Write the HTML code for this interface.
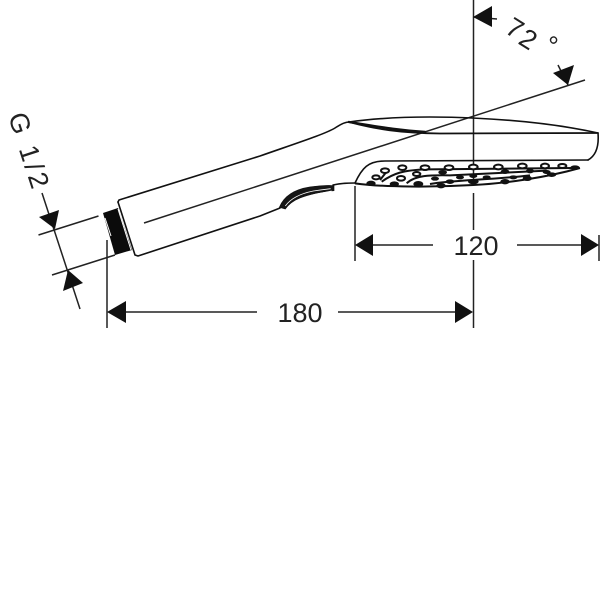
<!DOCTYPE html>
<html>
<head>
<meta charset="utf-8">
<style>
html,body{margin:0;padding:0;background:#fff;width:600px;height:600px;overflow:hidden}
svg{display:block}
text{font-family:"Liberation Sans",sans-serif;fill:#222}
</style>
</head>
<body>
<svg width="600" height="600" viewBox="0 0 600 600" xmlns="http://www.w3.org/2000/svg">
<rect width="600" height="600" fill="#fff"/>

<!-- center / extension lines -->
<g stroke="#222" stroke-width="1.500" fill="none">
<path d="M473.5 0V183M473.5 193V230M473.5 260V328"/>
<path d="M144 223L585 80"/>
<path d="M355 186V261M599 235V261M107 240V328"/>
<path d="M38.500 235L98.500 216M52 275L115 255"/>
<path d="M42 193L80 309"/>
<path d="M126 312H257M338 312H455M373 245H433M517 245H581"/>
<path d="M497 19L473 17M558 65L568 85"/>
</g>

<!-- arrowheads -->
<g fill="#111">
<polygon points="107,312 126,301 126,323"/>
<polygon points="473,312 455,301 455,323"/>
<polygon points="355,245 373,234 373,256"/>
<polygon points="599,245 581,234 581,256"/>
<polygon points="55,229 39,217 59,210"/>
<polygon points="68,270 63,291 83,283"/>
<polygon points="473,17 492,6 492,27"/>
<polygon points="568,85 553,73 574,65"/>
</g>

<!-- body -->
<g stroke="#111" stroke-width="1.600" fill="none" stroke-linejoin="round" stroke-linecap="round">
<path d="M118 202L119 200L260 156C300 142 325 134 335 128C341 124 345 122 349 122C420 112 530 118 598 133C599 145 597 155 588 160"/>
<path d="M118 202L135 255L138 256L260 216L280 208"/>
<path d="M333 185C342 183 348 183 355 183"/>
<path d="M349 122C375 129 400 133 440 133.500L598 133" stroke-width="1.800"/>
<path d="M349 122C375 126 395 130 425 132" stroke-width="2.400"/>
<path d="M355 183C362 168 368 161 385 161L588 160" stroke-width="1.600"/>
</g>

<!-- threaded connector -->
<polygon points="103,213 118,208 132,250 115,255" fill="#0b0b0b"/>
<path d="M105 218L111 236" stroke="#fff" stroke-width="1" fill="none"/>
<path d="M118 209L131 250" stroke="#fff" stroke-width="1" fill="none"/>

<!-- finger grip -->
<g transform="translate(260,110) scale(.3333)">
<path d="M58 292C72 258 105 238 150 231C180 227 205 225 222 227L222 242C190 245 150 252 120 264C100 272 85 284 76 297Z" fill="#161616" stroke="#111" stroke-width="2"/>
<path d="M76 288C93 264 125 250 160 243C180 240 195 238 212 236" fill="none" stroke="#fff" stroke-width="2.500"/>
<path d="M86 292C105 272 135 260 170 252C185 249 200 246 215 243" fill="none" stroke="#fff" stroke-width="2.500"/>
</g>

<!-- spray face -->
<g transform="translate(340,100) scale(.3333)">
<g fill="none" stroke="#111" stroke-width="6">
<path d="M45 250C130 262 280 262 400 255C500 250 620 232 720 204"/>
<path d="M125 245C160 220 190 210 260 208L700 204"/>
<path d="M200 250C225 225 270 225 330 226L620 212"/>
<path d="M270 252C340 240 450 240 570 226"/>
<path d="M120 240L140 215"/>
</g>
<g fill="#fff" stroke="#111" stroke-width="6">
<ellipse cx="135" cy="212" rx="12" ry="7"/>
<ellipse cx="187" cy="203" rx="12" ry="7"/>
<ellipse cx="255" cy="203" rx="13" ry="7"/>
<ellipse cx="327" cy="203" rx="13" ry="7"/>
<ellipse cx="400" cy="201" rx="13" ry="7"/>
<ellipse cx="475" cy="201" rx="13" ry="7"/>
<ellipse cx="547" cy="198" rx="13" ry="7"/>
<ellipse cx="615" cy="198" rx="12" ry="7"/>
<ellipse cx="667" cy="198" rx="12" ry="6"/>
<ellipse cx="108" cy="232" rx="11" ry="6"/>
<ellipse cx="183" cy="235" rx="12" ry="7"/>
<ellipse cx="230" cy="222" rx="11" ry="6"/>
</g>
<g fill="#111">
<ellipse cx="705" cy="203" rx="14" ry="7"/>
<ellipse cx="308" cy="217" rx="13" ry="7"/>
<ellipse cx="495" cy="215" rx="13" ry="7"/>
<ellipse cx="570" cy="213" rx="12" ry="7"/>
<ellipse cx="620" cy="216" rx="12" ry="6"/>
<ellipse cx="93" cy="250" rx="14" ry="8"/>
<ellipse cx="163" cy="252" rx="14" ry="8"/>
<ellipse cx="235" cy="252" rx="15" ry="9"/>
<ellipse cx="303" cy="257" rx="14" ry="8"/>
<ellipse cx="330" cy="245" rx="13" ry="7"/>
<ellipse cx="400" cy="245" rx="16" ry="8"/>
<ellipse cx="495" cy="245" rx="14" ry="8"/>
<ellipse cx="562" cy="235" rx="14" ry="8"/>
<ellipse cx="635" cy="224" rx="14" ry="7"/>
<ellipse cx="285" cy="236" rx="12" ry="6"/>
<ellipse cx="360" cy="232" rx="12" ry="6"/>
<ellipse cx="400" cy="228" rx="12" ry="6"/>
<ellipse cx="440" cy="232" rx="12" ry="6"/>
<ellipse cx="520" cy="232" rx="12" ry="6"/>
</g>
</g>

<!-- labels -->
<text x="300" y="322" font-size="27" text-anchor="middle">180</text>
<text x="476" y="255" font-size="27" text-anchor="middle">120</text>
<text transform="translate(8,116) rotate(72)" font-size="27" letter-spacing="3">G 1/2</text>
<text transform="translate(503.600,32) rotate(32)" font-size="27">7</text>
<text transform="translate(517,43) rotate(32)" font-size="27">2</text>
<text transform="translate(541,50) rotate(32)" font-size="27">°</text>
</svg>
</body>
</html>
